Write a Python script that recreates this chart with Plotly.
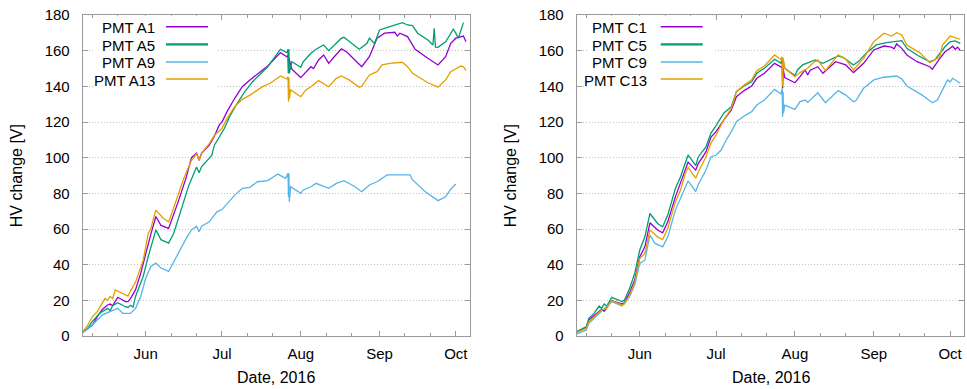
import pandas as pd
import plotly.graph_objects as go

W, H = 967, 389
FONT = "Liberation Sans, Arial, sans-serif"
BORDER = "#9a9a9a"
GRID = "#c4c4c4"

COLORS = ["#9400d3", "#009e73", "#56b4e9", "#e69f00"]

# ---------------- Sector A (left panel): HV change [V] vs date ----------------
a1_t = ["05-07", "05-09", "05-11", "05-13", "05-15", "05-17", "05-18", "05-19", "05-21", "05-24",
        "05-25", "05-26", "05-28", "05-30", "06-01", "06-03", "06-05", "06-07", "06-10", "06-11",
        "06-14", "06-17", "06-19", "06-21", "06-22", "06-23", "06-26", "06-28", "06-30", "07-01",
        "07-03", "07-06", "07-09", "07-12", "07-17", "07-19", "07-24", "07-26 12:00", "07-27 00:00",
        "07-27 04:00", "07-27 08:00", "07-28 12:00", "08-01", "08-03", "08-05", "08-06", "08-08",
        "08-10", "08-12", "08-14", "08-17", "08-19", "08-25", "08-28", "08-31", "09-03", "09-07",
        "09-08", "09-09", "09-12", "09-15", "09-20", "09-24", "09-27", "09-29", "10-01", "10-04", "10-05"]
a1_v = [1.9, 4.0, 6.0, 11.0, 15.0, 17.4, 17.9, 17.0, 21.7, 19.3,
        19.3, 21.0, 26.0, 35.0, 46.3, 57.0, 67.0, 62.0, 60.3, 64.0,
        76.2, 89.2, 100.0, 102.5, 98.5, 102.5, 107.0, 112.0, 118.5, 120.0,
        125.8, 133.3, 139.8, 143.6, 149.2, 151.4, 158.9, 156.6, 157.5,
        147.3, 156.0, 149.6, 144.9, 148.2, 151.0, 150.0, 154.8,
        157.6, 152.9, 156.3, 161.0, 159.4, 151.0, 156.6, 167.0, 169.8, 170.3,
        168.2, 169.8, 167.9, 160.8, 155.7, 152.0, 156.6, 164.1, 167.0, 168.2, 165.0]

a5_t = ["05-07", "05-09", "05-11", "05-14", "05-17", "05-18", "05-19", "05-21", "05-24", "05-25",
        "05-26", "05-27", "05-28", "05-31", "06-02", "06-05", "06-07", "06-10", "06-12", "06-15",
        "06-18", "06-21", "06-22", "06-23", "06-27", "06-28", "06-30", "07-02", "07-04", "07-07",
        "07-10", "07-13", "07-17", "07-19", "07-24", "07-26 12:00", "07-27 00:00", "07-27 04:00",
        "07-27 08:00", "07-27 12:00", "07-28 12:00", "08-01", "08-02", "08-05", "08-07", "08-10",
        "08-12", "08-17", "08-18", "08-24", "08-27", "08-28", "08-30", "09-01", "09-05", "09-10",
        "09-12", "09-14", "09-16", "09-20", "09-22", "09-22 12:00", "09-23", "09-24", "09-27",
        "09-30", "10-01", "10-02", "10-04"]
a5_v = [1.9, 4.0, 8.2, 12.9, 15.5, 14.2, 17.0, 18.7, 16.4, 16.0,
        17.2, 16.2, 22.2, 33.4, 44.6, 59.5, 54.0, 52.1, 57.5, 70.6,
        84.6, 94.8, 91.5, 95.0, 101.3, 107.0, 111.8, 116.5, 123.0, 130.5,
        137.0, 142.6, 148.2, 151.0, 160.8, 158.9, 160.8, 147.3,
        160.8, 147.3, 153.8, 150.7, 153.8, 158.5, 160.8, 163.2,
        160.0, 167.0, 167.5, 160.8, 164.0, 167.0, 164.0, 171.6, 173.5, 175.7,
        174.4, 174.0, 169.8, 166.0, 163.2, 172.6, 162.0, 161.9, 165.0,
        172.0, 169.8, 167.0, 175.7]

a9_t = ["05-07", "05-11", "05-15", "05-19", "05-21", "05-23", "05-26", "05-28", "05-30", "06-01",
        "06-03", "06-05", "06-07", "06-10", "06-11", "06-14", "06-17", "06-19", "06-21", "06-22",
        "06-23", "06-26", "06-29", "07-01", "07-03", "07-06", "07-09", "07-12", "07-15", "07-19",
        "07-23", "07-26", "07-27 00:00", "07-27 04:00", "07-27 08:00", "07-27 12:00", "07-28",
        "08-01", "08-02", "08-05", "08-07", "08-12", "08-15", "08-18", "08-22", "08-25", "08-28",
        "08-31", "09-04", "09-13", "09-14", "09-19", "09-24", "09-27", "09-29", "10-01"]
a9_v = [1.5, 6.3, 11.9, 14.6, 15.5, 12.7, 12.7, 15.5, 22.2, 32.4,
        39.0, 40.9, 38.1, 36.2, 39.0, 47.4, 54.9, 59.5, 61.6, 58.4,
        61.6, 64.0, 69.6, 70.9, 74.4, 79.0, 82.8, 83.4, 86.5, 87.1,
        90.8, 88.4, 91.2, 78.0, 91.2, 75.3, 83.7,
        80.0, 81.9, 83.7, 85.6, 82.8, 85.6, 87.1, 84.0, 80.9, 84.7,
        86.5, 90.3, 90.3, 87.5, 80.9, 75.9, 78.1, 82.3, 85.2]

a13_t = ["05-07", "05-09", "05-11", "05-13", "05-16", "05-17", "05-18", "05-19", "05-20", "05-24",
         "05-25", "05-26", "05-28", "05-31", "06-02", "06-03", "06-05", "06-08", "06-10", "06-11",
         "06-14", "06-16", "06-19", "06-21", "06-22", "06-23", "06-26", "06-28", "07-01", "07-03",
         "07-06", "07-09", "07-12", "07-14", "07-17", "07-20", "07-24", "07-26 12:00", "07-27 00:00",
         "07-27 04:00", "07-27 08:00", "07-27 12:00", "07-28", "08-01", "08-03", "08-05", "08-06",
         "08-08", "08-12", "08-15", "08-17", "08-20", "08-24", "08-25", "08-28", "08-31", "09-02",
         "09-05", "09-10", "09-12", "09-14", "09-20", "09-24", "09-27", "09-29", "10-03", "10-04", "10-05"]
a13_v = [2.0, 5.6, 10.9, 13.7, 21.1, 19.9, 22.2, 21.0, 25.8, 23.0,
         22.4, 25.2, 30.3, 42.4, 57.5, 60.3, 70.6, 65.9, 64.0, 67.8,
         79.9, 88.4, 98.5, 102.3, 98.5, 102.6, 107.9, 112.5, 116.3, 122.0,
         128.6, 132.7, 135.1, 137.0, 139.8, 141.7, 145.8, 144.1, 145.4,
         131.4, 145.0, 133.0, 138.0, 134.2, 138.0, 139.8, 141.0,
         143.2, 139.8, 144.5, 145.8, 143.6, 139.5, 140.0, 146.4, 148.2, 152.0,
         152.9, 153.5, 151.0, 147.3, 142.0, 139.5, 143.6, 148.2, 151.4, 151.0, 148.8]

# ---------------- Sector C (right panel) ----------------
c1_t = ["05-07", "05-11", "05-12", "05-15", "05-17", "05-18", "05-19", "05-21", "05-25", "05-26",
        "05-28", "05-30", "06-01", "06-03", "06-05", "06-08", "06-10", "06-12", "06-15", "06-17",
        "06-19", "06-20", "06-23", "06-24", "06-27", "06-29", "07-01", "07-04", "07-07", "07-09",
        "07-12", "07-15", "07-17", "07-20", "07-24", "07-26 12:00", "07-27 00:00", "07-27 04:00",
        "07-27 08:00", "07-28", "08-01", "08-03", "08-05", "08-06", "08-07", "08-10", "08-12",
        "08-17", "08-21", "08-24", "08-28", "09-01", "09-05", "09-08", "09-09", "09-10", "09-12",
        "09-14", "09-18", "09-23", "09-24", "09-27", "09-29", "10-01", "10-02", "10-03", "10-04", "10-05"]
c1_v = [1.9, 5.0, 9.0, 12.4, 15.0, 13.9, 15.8, 19.8, 18.0, 18.7,
        24.3, 31.4, 44.4, 50.0, 63.5, 59.4, 57.9, 64.0, 78.0, 85.9,
        93.9, 97.5, 93.0, 96.7, 103.2, 111.6, 114.6, 121.1, 126.7, 134.2,
        137.6, 140.2, 144.5, 147.3, 152.9, 151.0, 150.5, 138.9,
        150.0, 144.9, 142.0, 145.4, 149.2, 146.4, 149.0, 151.0, 147.3,
        153.8, 152.0, 147.7, 152.9, 160.4, 162.6, 162.0, 161.0, 163.8, 161.3,
        157.6, 153.8, 151.0, 149.6, 155.7, 159.4, 161.3, 162.5, 160.8, 162.0, 160.0]

c5_t = ["05-07", "05-11", "05-12", "05-14", "05-16", "05-17", "05-18", "05-19", "05-21", "05-25",
        "05-26", "05-28", "05-30", "06-01", "06-03", "06-05", "06-08", "06-10", "06-12", "06-15",
        "06-17", "06-19", "06-20", "06-23", "06-24", "06-27", "06-29", "07-01", "07-04", "07-07",
        "07-09", "07-12", "07-15", "07-17", "07-20", "07-24", "07-26 12:00", "07-27 00:00",
        "07-27 04:00", "07-27 08:00", "07-28", "08-01", "08-02", "08-04", "08-07", "08-09", "08-12",
        "08-15", "08-18", "08-20", "08-24", "08-26", "08-28", "08-29", "09-02", "09-06", "09-12",
        "09-14", "09-18", "09-23", "09-25", "09-27", "09-29", "10-01", "10-03", "10-05"]
c5_v = [2.5, 5.2, 9.9, 12.7, 16.8, 15.5, 18.0, 16.8, 21.7, 19.3,
        20.2, 26.7, 35.1, 48.2, 55.6, 68.7, 63.1, 61.2, 67.8, 82.7,
        89.2, 96.7, 101.5, 95.5, 100.4, 106.0, 113.8, 118.0, 124.9, 128.6,
        137.0, 140.2, 142.6, 147.3, 150.1, 155.2, 153.0, 156.0,
        144.0, 155.0, 150.1, 146.0, 149.2, 152.0, 153.8, 154.8, 152.9,
        154.8, 157.0, 156.3, 152.0, 154.0, 157.0, 158.5, 163.2, 164.5, 165.6,
        161.3, 157.6, 153.8, 154.8, 158.5, 162.2, 165.0, 165.5, 164.1]

c9_t = ["05-07", "05-11", "05-12", "05-15", "05-18", "05-21", "05-25", "05-28", "05-30", "06-01",
        "06-03", "06-05", "06-07", "06-10", "06-12", "06-15", "06-17", "06-19", "06-20", "06-23",
        "06-24", "06-27", "06-29", "07-01", "07-03", "07-05", "07-07", "07-09", "07-12", "07-15",
        "07-17", "07-20", "07-24", "07-26 12:00", "07-27 00:00", "07-27 04:00", "07-27 08:00",
        "07-27 12:00", "07-28", "08-01", "08-03", "08-05", "08-06", "08-10", "08-13", "08-18",
        "08-21", "08-24", "08-25", "08-28", "09-01", "09-05", "09-10", "09-12", "09-14", "09-20",
        "09-24", "09-26", "09-29", "09-30", "10-01", "10-02", "10-05"]
c9_v = [1.0, 3.4, 7.1, 11.2, 15.0, 19.3, 16.8, 22.0, 28.6, 40.7,
        42.5, 56.6, 51.9, 50.0, 55.6, 70.6, 77.1, 83.6, 87.0, 81.0,
        85.0, 92.9, 100.4, 101.5, 104.3, 109.9, 114.6, 120.2, 123.4, 125.8,
        129.5, 132.3, 138.3, 135.7, 138.9, 123.0, 137.0,
        125.0, 129.5, 127.1, 131.4, 132.3, 131.0, 136.4, 130.8, 137.6,
        135.1, 131.4, 132.0, 138.9, 143.6, 145.1, 145.8, 144.1, 140.2, 135.1,
        130.8, 132.3, 140.8, 143.6, 142.5, 144.5, 141.7]

c13_t = ["05-07", "05-11", "05-12", "05-15", "05-17", "05-19", "05-21", "05-25", "05-26", "05-28",
         "05-30", "06-01", "06-03", "06-05", "06-08", "06-10", "06-12", "06-15", "06-17", "06-19",
         "06-20", "06-23", "06-24", "06-27", "06-29", "07-01", "07-04", "07-07", "07-09", "07-12",
         "07-15", "07-17", "07-20", "07-24", "07-26 12:00", "07-27 00:00", "07-27 04:00",
         "07-27 08:00", "07-28", "08-01", "08-03", "08-06", "08-08", "08-10", "08-13", "08-18",
         "08-21", "08-24", "08-28", "09-01", "09-05", "09-08", "09-10", "09-12", "09-14", "09-19",
         "09-23", "09-27", "09-28", "10-01", "10-05"]
c13_v = [1.9, 4.3, 8.0, 11.8, 14.6, 15.5, 19.8, 17.4, 18.0, 23.0,
         29.9, 43.5, 46.3, 59.4, 55.6, 54.1, 60.3, 75.2, 81.7, 91.5,
         94.5, 88.5, 92.0, 100.4, 108.2, 112.7, 121.1, 127.7, 137.0, 140.8,
         143.6, 148.8, 151.4, 157.6, 155.0, 156.6, 139.8,
         156.0, 150.1, 145.4, 147.7, 150.1, 152.9, 154.8, 148.8, 157.6,
         155.2, 149.2, 155.7, 165.0, 169.8, 168.2, 170.1, 168.8, 163.2, 158.9,
         153.3, 156.6, 163.2, 168.2, 166.4]

# ---------------- axis labelling ----------------
month_ticks = ["2016-06-01", "2016-07-01", "2016-08-01", "2016-09-01", "2016-10-01"]
month_names = ["Jun", "Jul", "Aug", "Sep", "Oct"]
minor_ticks = ["2016-05-11", "2016-05-21", "2016-06-11", "2016-06-21", "2016-07-11",
               "2016-07-21", "2016-08-11", "2016-08-21", "2016-09-11", "2016-09-21"]
hv_ticks = [0, 20, 40, 60, 80, 100, 120, 140, 160, 180]
date_range = ["2016-05-07 05:00", "2016-10-06 14:00"]
x_title = "Date, 2016"
y_title = "HV change [V]"


def when(days):
    return pd.to_datetime(["2016-" + d for d in days], format="ISO8601")


def px(x):
    return x / W


def py(y):
    return 1 - y / H


panels = [
    dict(xaxis="x", yaxis="y", left=82.7, right=470.0, key_box=(93, 218),
         key_text=156.7, key_line=(166, 208),
         names=["PMT A1", "PMT A5", "PMT A9", "PMT A13"],
         series=[(a1_t, a1_v), (a5_t, a5_v), (a9_t, a9_v), (a13_t, a13_v)]),
    dict(xaxis="x2", yaxis="y2", left=576.7, right=964.3, key_box=(587, 713),
         key_text=649.3, key_line=(660.7, 702.7),
         names=["PMT C1", "PMT C5", "PMT C9", "PMT C13"],
         series=[(c1_t, c1_v), (c5_t, c5_v), (c9_t, c9_v), (c13_t, c13_v)]),
]

PLOT_TOP, PLOT_BOTTOM = 15.0, 336.0
KEY_ROWS = [26.7, 44.3, 62.0, 79.0]

fig = go.Figure()
shapes, annotations = [], []
layout_axes = {}

for i, p in enumerate(panels):
    for (t, v), color in zip(p["series"], COLORS):
        fig.add_trace(go.Scatter(x=when(t), y=v, mode="lines",
                                 line=dict(color=color, width=1.3),
                                 xaxis=p["xaxis"], yaxis=p["yaxis"],
                                 showlegend=False, hoverinfo="skip"))

    xname = "xaxis" if i == 0 else "xaxis2"
    yname = "yaxis" if i == 0 else "yaxis2"
    layout_axes[xname] = dict(
        domain=[px(p["left"]), px(p["right"])], anchor=p["yaxis"],
        type="date", range=date_range, automargin=False,
        tickmode="array", tickvals=month_ticks, ticktext=month_names,
        ticks="inside", ticklen=5, tickwidth=1, tickcolor=BORDER,
        showline=True, linecolor=BORDER, linewidth=1, mirror="ticks",
        showgrid=False, zeroline=False, ticklabelstandoff=4,
        tickfont=dict(family=FONT, size=15, color="black"),
        minor=dict(tickmode="array", tickvals=minor_ticks, ticks="inside",
                   ticklen=3, tickwidth=1, tickcolor=BORDER, showgrid=False),
    )
    layout_axes[yname] = dict(
        domain=[py(PLOT_BOTTOM), py(PLOT_TOP)], anchor=p["xaxis"],
        range=[0, 180], tickmode="array", tickvals=hv_ticks, automargin=False,
        ticks="inside", ticklen=5, tickwidth=1, tickcolor=BORDER,
        showline=True, linecolor=BORDER, linewidth=1, mirror="ticks",
        showgrid=True, gridcolor=GRID, griddash="1px,2px", gridwidth=1,
        zeroline=False, ticklabelstandoff=9,
        tickfont=dict(family=FONT, size=15, color="black"),
    )

    # key box (opaque, hides grid and top ticks behind it)
    bx0, bx1 = p["key_box"]
    shapes.append(dict(type="rect", xref="paper", yref="paper", layer="above",
                       x0=px(bx0), x1=px(bx1), y0=py(92), y1=py(PLOT_TOP + 0.8),
                       fillcolor="white", line=dict(width=0)))
    lx0, lx1 = p["key_line"]
    for name, color, row in zip(p["names"], COLORS, KEY_ROWS):
        shapes.append(dict(type="line", xref="paper", yref="paper", layer="above",
                           x0=px(lx0), x1=px(lx1), y0=py(row), y1=py(row),
                           line=dict(color=color, width=2.2 if color == COLORS[1] else 1.6)))
        annotations.append(dict(text=name, xref="paper", yref="paper",
                                x=px(p["key_text"]), y=py(row + 1), xanchor="right",
                                yanchor="middle", showarrow=False,
                                font=dict(family=FONT, size=15, color="black")))

    centre = (p["left"] + p["right"]) / 2
    annotations.append(dict(text=x_title, xref="paper", yref="paper",
                            x=px(centre), y=py(377.7), xanchor="center", yanchor="middle",
                            showarrow=False, font=dict(family=FONT, size=16, color="black")))
    annotations.append(dict(text=y_title, xref="paper", yref="paper", textangle=-90,
                            x=px(p["left"] - 66), y=py((PLOT_TOP + PLOT_BOTTOM) / 2),
                            xanchor="center", yanchor="middle", showarrow=False,
                            font=dict(family=FONT, size=16, color="black")))

fig.update_layout(
    width=W, height=H,
    margin=dict(l=0, r=0, t=0, b=0, pad=0, autoexpand=False),
    paper_bgcolor="white", plot_bgcolor="white",
    showlegend=False,
    shapes=shapes, annotations=annotations,
    **layout_axes,
)

fig.write_html("out.html")
